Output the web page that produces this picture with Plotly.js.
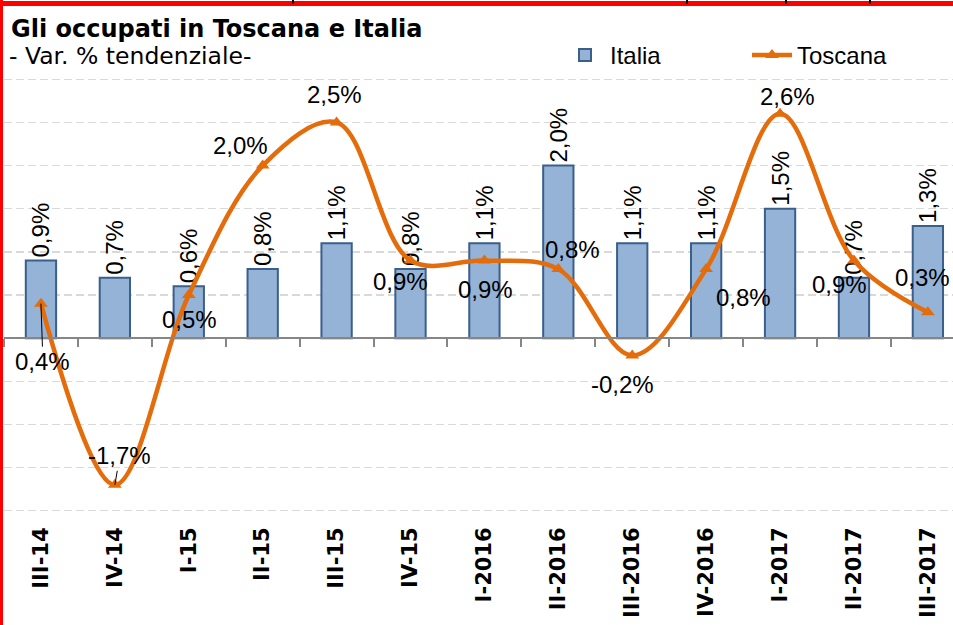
<!DOCTYPE html>
<html>
<head>
<meta charset="utf-8">
<script src="https://cdn.plot.ly/plotly-3.0.1.min.js"></script>
<style>
  html, body { margin: 0; padding: 0; background: #fff; }
  #wrap { position: relative; width: 953px; height: 625px; overflow: hidden; }
  #chart { width: 953px; height: 625px; }
  .deco { position: absolute; background: #FF0000; pointer-events: none; }
  .blk { position: absolute; background: #000; pointer-events: none; }
</style>
</head>
<body>
<div id="wrap">
  <div id="chart"></div>
  <div class="deco" style="left:0;top:1px;width:953px;height:5px;"></div>
  <div class="deco" style="left:0;top:0;width:3px;height:625px;"></div>
  <div class="blk" style="left:292px;top:0;width:2px;height:4px;"></div>
  <div class="blk" style="left:686px;top:0;width:2px;height:4px;"></div>
  <div class="blk" style="left:785px;top:0;width:2px;height:4px;"></div>
  <div class="blk" style="left:869px;top:0;width:2px;height:4px;"></div>
</div>
<script>
// ---- data ----
const categories = ["III-14","IV-14","I-15","II-15","III-15","IV-15","I-2016","II-2016","III-2016","IV-2016","I-2017","II-2017","III-2017"];
const italia  = [0.9, 0.7, 0.6, 0.8, 1.1, 0.8, 1.1, 2.0, 1.1, 1.1, 1.5, 0.7, 1.3];
const toscana = [0.4, -1.7, 0.5, 2.0, 2.5, 0.9, 0.9, 0.8, -0.2, 0.8, 2.6, 0.9, 0.3];

// ---- styles (label offsets in pixels, relative to each point) ----
const toscanaLabelOffsets = [
  [2, 58], [5, -29], [1, 24], [-22, -20], [-2, -28], [-10, 21], [1, 29],
  [14, -20], [-10, 29], [37, 28], [7, -17], [-14, 24], [-5, -35]
];
const leaderLines = [true, true, false, false, false, false, false, false, false, false, false, false, false];

const fmt = v => v.toFixed(1).replace('.', ',') + '%';
const labelFont = {family: 'Liberation Sans, Arial, sans-serif', size: 24, color: '#000'};
const ORANGE = '#E46C0A';

const Y_MIN = -2.05, Y_MAX = 3.05;
const PLOT_L = 4, PLOT_T = 75, PLOT_W = 949, PLOT_H = 440;
const px2x = px => (px - PLOT_L) / PLOT_W;
const px2y = py => (PLOT_T + PLOT_H - py) / PLOT_H;

const traces = [
  {
    type: 'bar', name: 'Italia', x: categories, y: italia,
    width: 0.41,
    marker: {color: '#95B3D7', line: {color: '#3A5F8B', width: 2}},
    text: italia.map(fmt), textposition: 'outside', textangle: -90,
    textfont: labelFont, constraintext: 'none', cliponaxis: false,
    hoverinfo: 'skip'
  },
  {
    type: 'scatter', name: 'Toscana', x: categories, y: toscana,
    mode: 'lines+markers',
    line: {color: ORANGE, width: 4.5, shape: 'spline', smoothing: 1},
    marker: {symbol: 'triangle-up', size: 12, color: ORANGE},
    cliponaxis: false, hoverinfo: 'skip'
  },
  {
    type: 'scatter', x: categories, y: italia, xaxis: 'x2', mode: 'none',
    showlegend: false, hoverinfo: 'skip'
  }
];

const annotations = toscana.map((v, i) => ({
  x: categories[i], y: v, xref: 'x', yref: 'y',
  text: fmt(v), font: labelFont,
  showarrow: true, arrowhead: 0, arrowwidth: 1, standoff: 0,
  arrowcolor: leaderLines[i] ? '#000' : 'rgba(0,0,0,0)',
  ax: toscanaLabelOffsets[i][0], ay: toscanaLabelOffsets[i][1]
}));

annotations.push({
  xref: 'paper', yref: 'paper', x: px2x(7), y: px2y(56),
  xanchor: 'left', yanchor: 'middle', showarrow: false,
  text: '- Var. % tendenziale-',
  font: {family: 'DejaVu Sans, sans-serif', size: 23.5, color: '#000'}
});

const layout = {
  width: 953, height: 625,
  margin: {l: PLOT_L, r: 0, t: PLOT_T, b: 625 - PLOT_T - PLOT_H, pad: 0, autoexpand: false},
  paper_bgcolor: '#fff', plot_bgcolor: '#fff',
  title: {
    text: '<b>Gli occupati in Toscana e Italia</b>',
    font: {family: 'DejaVu Sans, sans-serif', size: 24, color: '#000'},
    xref: 'container', yref: 'container',
    x: 11 / 953, xanchor: 'left', y: 1 - 29 / 625, yanchor: 'middle'
  },
  showlegend: true,
  legend: {
    orientation: 'h', x: px2x(560), y: px2y(33), xanchor: 'left', yanchor: 'top',
    font: labelFont, entrywidth: 132, entrywidthmode: 'pixels',
    bgcolor: 'rgba(0,0,0,0)', itemwidth: 40
  },
  xaxis: {
    type: 'category', range: [-0.5, 12.34], autorange: false,
    showgrid: false, zeroline: false, showline: false,
    ticks: 'outside', ticklen: 3, tickcolor: 'rgba(0,0,0,0)',
    tickangle: -90,
    tickfont: {family: 'DejaVu Sans, sans-serif', size: 21, color: '#000', weight: 'bold'},
    fixedrange: true
  },
  xaxis2: {
    type: 'category', overlaying: 'x', matches: 'x', anchor: 'free',
    position: (0 - Y_MIN) / (Y_MAX - Y_MIN),
    showgrid: false, zeroline: false, showline: true, linecolor: '#868686', linewidth: 2,
    ticks: 'outside', ticklen: 8, tickwidth: 2, tickcolor: '#868686', tickson: 'boundaries',
    showticklabels: false
  },
  yaxis: {
    range: [Y_MIN, Y_MAX], autorange: false, dtick: 0.5, tick0: 0,
    showgrid: true, gridcolor: '#D9D9D9', gridwidth: 1.5, griddash: '8px,4px',
    zeroline: false, showline: false, showticklabels: false, ticks: '',
    fixedrange: true
  },
  bargap: 0.59,
  annotations: annotations
};

Plotly.newPlot('chart', traces, layout, {displayModeBar: false, staticPlot: true});
</script>
</body>
</html>
